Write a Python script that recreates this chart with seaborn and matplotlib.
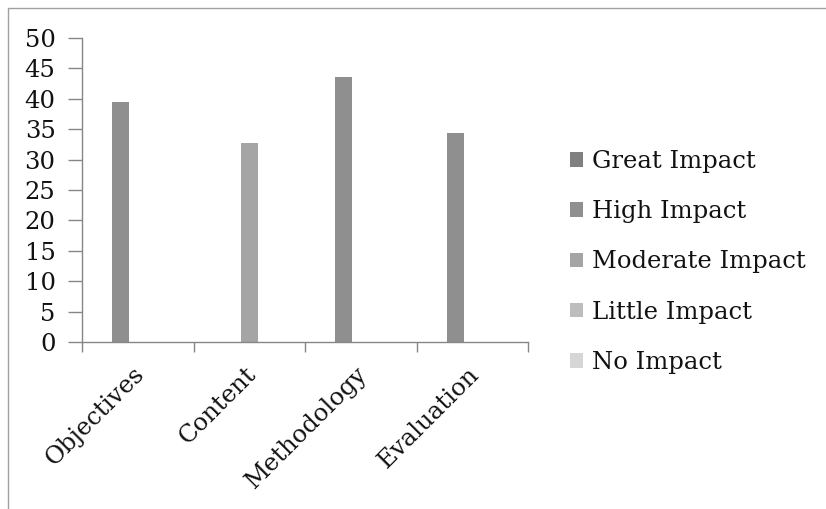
import matplotlib
matplotlib.use("Agg")
import matplotlib.pyplot as plt
import matplotlib.transforms as mtransforms
import seaborn as sns
import pandas as pd
from matplotlib.patches import Patch, Rectangle

categories = ["Objectives", "Content", "Methodology", "Evaluation"]
levels = ["Great Impact", "High Impact", "Moderate Impact", "Little Impact", "No Impact"]
great_impact = [0, 0, 0, 0]
high_impact = [39.5, 0, 43.6, 34.3]
moderate_impact = [0, 32.8, 0, 0]
little_impact = [0, 0, 0, 0]
no_impact = [0, 0, 0, 0]
colors = ["#808080", "#8f8f8f", "#a5a5a5", "#bdbdbd", "#d6d6d6"]
y_ticks = [0, 5, 10, 15, 20, 25, 30, 35, 40, 45, 50]

series = [great_impact, high_impact, moderate_impact, little_impact, no_impact]
rows = []
for lev, vals in zip(levels, series):
    for cat, v in zip(categories, vals):
        rows.append({"Aspect": cat, "Level": lev, "Value": v})
df = pd.DataFrame(rows)

sns.set_theme(style="white")
plt.rcParams["font.family"] = ["DejaVu Serif"]
FS = 17.5

fig = plt.figure(figsize=(8.26, 5.09), dpi=100)
ax = fig.add_axes([82/826, 1-342/509, (528-82)/826, (342-38)/509])

sns.barplot(data=df, x="Aspect", y="Value", hue="Level", hue_order=levels,
            order=categories, palette=colors, width=5/6.5, gap=0,
            linewidth=0, ax=ax, legend=False, errorbar=None, saturation=1)

spine_c = "#868686"
ax.set_xlim(-0.5, 3.5)
ax.set_ylim(0, 50)
ax.set_xlabel("")
ax.set_ylabel("")
for s in ["top", "right"]:
    ax.spines[s].set_visible(False)
for s in ["left", "bottom"]:
    ax.spines[s].set_color(spine_c)
    ax.spines[s].set_linewidth(1)

ax.set_yticks(y_ticks)
ax.set_yticklabels([str(t) for t in y_ticks], fontsize=FS, color="#111111")
ax.tick_params(axis="y", length=10, color=spine_c, width=1, pad=9, left=True)

ax.set_xticks([-0.5, 0.5, 1.5, 2.5, 3.5])
ax.set_xticklabels([])
ax.tick_params(axis="x", which="major", length=7, color=spine_c, width=1, bottom=True)
ax.set_xticks([0, 1, 2, 3], minor=True)
ax.set_xticklabels(categories, minor=True, rotation=45, ha="right",
                   rotation_mode="anchor", fontsize=FS, color="#111111")
ax.tick_params(axis="x", which="minor", length=0, pad=15)
shift = mtransforms.ScaledTranslation(-5/100, 0, fig.dpi_scale_trans)
for lbl in ax.get_xticklabels(minor=True):
    lbl.set_transform(lbl.get_transform() + shift)

handles = [Patch(facecolor=c, edgecolor="none", label=l) for c, l in zip(colors, levels)]
leg = fig.legend(handles=handles, loc="upper left", bbox_to_anchor=(570/826, 1-150/509),
                 frameon=False, fontsize=FS, handlelength=0.55, handleheight=0.55,
                 handletextpad=0.35, labelspacing=1.12, borderaxespad=0, borderpad=0)
for t in leg.get_texts():
    t.set_color("#111111")

fig.patches.append(Rectangle((8/826, -0.05), 1.2, 1-8/509+0.05, transform=fig.transFigure,
                             fill=False, edgecolor="#a0a0a0", linewidth=1))

fig.savefig("out.png", dpi=100)
